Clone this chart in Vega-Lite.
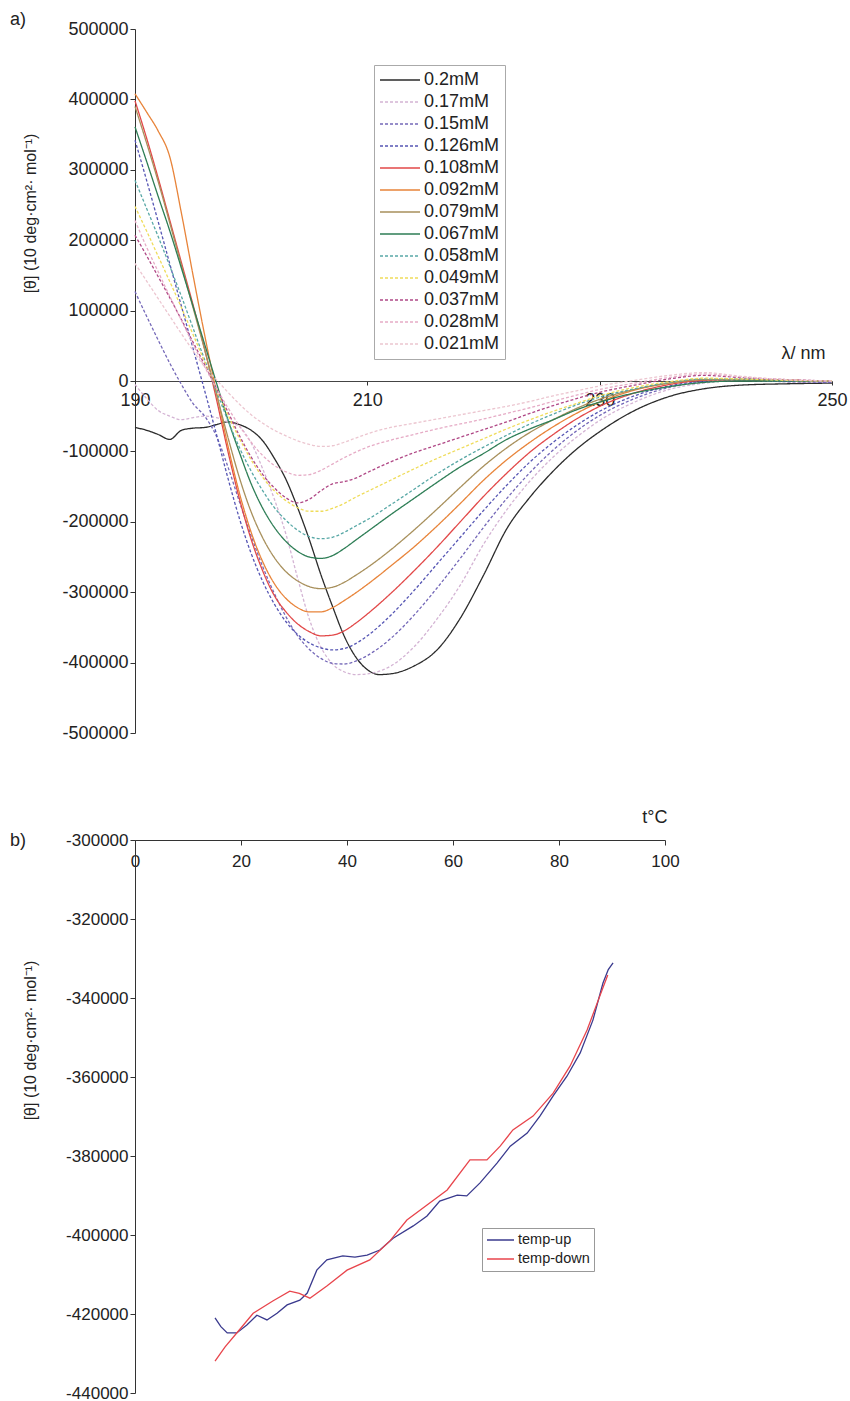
{
"$schema":"https://vega.github.io/schema/vega-lite/v6.json",
"padding":{"left":10,"top":11,"right":0,"bottom":0},
"bounds":"flush",
"spacing":107,
"config":{"font":"Liberation Sans","view":{"stroke":null},
"axis":{"labelFont":"Liberation Sans","labelFontSize":18,"labelColor":"#222","domainColor":"#333","tickColor":"#333","grid":false,"titleFont":"Liberation Sans","titleFontWeight":"normal","titleFontSize":16,"titleColor":"#222","tickSize":5,"labelExpr":"'' + datum.value"},
"title":{"font":"Liberation Sans","fontWeight":"normal","fontSize":18,"color":"#222"}},
"datasets":{
"a":[
{"c":"0.2mM","w":190,"v":-66000},{"c":"0.2mM","w":191,"v":-70000},{"c":"0.2mM","w":192,"v":-76000},{"c":"0.2mM","w":193,"v":-83000},{"c":"0.2mM","w":194,"v":-70000},{"c":"0.2mM","w":195,"v":-67000},{"c":"0.2mM","w":196,"v":-66000},{"c":"0.2mM","w":197,"v":-62000},{"c":"0.2mM","w":198,"v":-58000},{"c":"0.2mM","w":199,"v":-62000},{"c":"0.2mM","w":200,"v":-70000},{"c":"0.2mM","w":201,"v":-85000},{"c":"0.2mM","w":202,"v":-110000},{"c":"0.2mM","w":203,"v":-140000},{"c":"0.2mM","w":204,"v":-180000},{"c":"0.2mM","w":205,"v":-225000},{"c":"0.2mM","w":206,"v":-275000},{"c":"0.2mM","w":207,"v":-320000},{"c":"0.2mM","w":208,"v":-362000},{"c":"0.2mM","w":209,"v":-392000},{"c":"0.2mM","w":210,"v":-410000},{"c":"0.2mM","w":211,"v":-417000},{"c":"0.2mM","w":212,"v":-416000},{"c":"0.2mM","w":214,"v":-405000},{"c":"0.2mM","w":216,"v":-382000},{"c":"0.2mM","w":218,"v":-337000},{"c":"0.2mM","w":220,"v":-276000},{"c":"0.2mM","w":222,"v":-210000},{"c":"0.2mM","w":224,"v":-165000},{"c":"0.2mM","w":226,"v":-128000},{"c":"0.2mM","w":228,"v":-97000},{"c":"0.2mM","w":230,"v":-72000},{"c":"0.2mM","w":233,"v":-42000},{"c":"0.2mM","w":236,"v":-22000},{"c":"0.2mM","w":239,"v":-11000},{"c":"0.2mM","w":242,"v":-6000},{"c":"0.2mM","w":246,"v":-4000},{"c":"0.2mM","w":250,"v":-3000},
{"c":"0.17mM","w":190,"v":-5000},{"c":"0.17mM","w":191,"v":-25000},{"c":"0.17mM","w":192,"v":-42000},{"c":"0.17mM","w":193,"v":-50000},{"c":"0.17mM","w":194,"v":-55000},{"c":"0.17mM","w":195,"v":-52000},{"c":"0.17mM","w":196,"v":-50000},{"c":"0.17mM","w":197,"v":-52000},{"c":"0.17mM","w":198,"v":-58000},{"c":"0.17mM","w":199,"v":-65000},{"c":"0.17mM","w":200,"v":-88000},{"c":"0.17mM","w":201,"v":-125000},{"c":"0.17mM","w":202,"v":-168000},{"c":"0.17mM","w":203,"v":-218000},{"c":"0.17mM","w":204,"v":-280000},{"c":"0.17mM","w":205,"v":-338000},{"c":"0.17mM","w":206,"v":-378000},{"c":"0.17mM","w":207,"v":-402000},{"c":"0.17mM","w":208,"v":-413000},{"c":"0.17mM","w":209,"v":-417000},{"c":"0.17mM","w":210,"v":-416000},{"c":"0.17mM","w":212,"v":-405000},{"c":"0.17mM","w":214,"v":-378000},{"c":"0.17mM","w":216,"v":-338000},{"c":"0.17mM","w":218,"v":-290000},{"c":"0.17mM","w":220,"v":-232000},{"c":"0.17mM","w":222,"v":-183000},{"c":"0.17mM","w":224,"v":-142000},{"c":"0.17mM","w":226,"v":-108000},{"c":"0.17mM","w":228,"v":-80000},{"c":"0.17mM","w":230,"v":-56000},{"c":"0.17mM","w":233,"v":-30000},{"c":"0.17mM","w":236,"v":-12000},{"c":"0.17mM","w":239,"v":-3000},{"c":"0.17mM","w":242,"v":1000},{"c":"0.17mM","w":246,"v":-1000},{"c":"0.17mM","w":250,"v":-2000},
{"c":"0.15mM","w":190,"v":127000},{"c":"0.15mM","w":191,"v":92000},{"c":"0.15mM","w":192,"v":58000},{"c":"0.15mM","w":193,"v":25000},{"c":"0.15mM","w":194,"v":-5000},{"c":"0.15mM","w":195,"v":-32000},{"c":"0.15mM","w":196,"v":-50000},{"c":"0.15mM","w":197,"v":-78000},{"c":"0.15mM","w":198,"v":-122000},{"c":"0.15mM","w":199,"v":-172000},{"c":"0.15mM","w":200,"v":-220000},{"c":"0.15mM","w":201,"v":-264000},{"c":"0.15mM","w":202,"v":-302000},{"c":"0.15mM","w":203,"v":-335000},{"c":"0.15mM","w":204,"v":-362000},{"c":"0.15mM","w":205,"v":-381000},{"c":"0.15mM","w":206,"v":-394000},{"c":"0.15mM","w":207,"v":-401000},{"c":"0.15mM","w":208,"v":-402000},{"c":"0.15mM","w":209,"v":-398000},{"c":"0.15mM","w":210,"v":-390000},{"c":"0.15mM","w":212,"v":-366000},{"c":"0.15mM","w":214,"v":-333000},{"c":"0.15mM","w":216,"v":-294000},{"c":"0.15mM","w":218,"v":-252000},{"c":"0.15mM","w":220,"v":-208000},{"c":"0.15mM","w":222,"v":-167000},{"c":"0.15mM","w":224,"v":-130000},{"c":"0.15mM","w":226,"v":-98000},{"c":"0.15mM","w":228,"v":-71000},{"c":"0.15mM","w":230,"v":-49000},{"c":"0.15mM","w":233,"v":-25000},{"c":"0.15mM","w":236,"v":-9000},{"c":"0.15mM","w":239,"v":-1000},{"c":"0.15mM","w":242,"v":1000},{"c":"0.15mM","w":246,"v":-1000},{"c":"0.15mM","w":250,"v":-2000},
{"c":"0.126mM","w":190,"v":342000},{"c":"0.126mM","w":191,"v":285000},{"c":"0.126mM","w":192,"v":226000},{"c":"0.126mM","w":193,"v":166000},{"c":"0.126mM","w":194,"v":106000},{"c":"0.126mM","w":195,"v":46000},{"c":"0.126mM","w":196,"v":-14000},{"c":"0.126mM","w":197,"v":-75000},{"c":"0.126mM","w":198,"v":-138000},{"c":"0.126mM","w":199,"v":-196000},{"c":"0.126mM","w":200,"v":-245000},{"c":"0.126mM","w":201,"v":-285000},{"c":"0.126mM","w":202,"v":-317000},{"c":"0.126mM","w":203,"v":-342000},{"c":"0.126mM","w":204,"v":-360000},{"c":"0.126mM","w":205,"v":-372000},{"c":"0.126mM","w":206,"v":-379000},{"c":"0.126mM","w":207,"v":-382000},{"c":"0.126mM","w":208,"v":-380000},{"c":"0.126mM","w":209,"v":-373000},{"c":"0.126mM","w":210,"v":-362000},{"c":"0.126mM","w":212,"v":-333000},{"c":"0.126mM","w":214,"v":-298000},{"c":"0.126mM","w":216,"v":-260000},{"c":"0.126mM","w":218,"v":-222000},{"c":"0.126mM","w":220,"v":-184000},{"c":"0.126mM","w":222,"v":-148000},{"c":"0.126mM","w":224,"v":-115000},{"c":"0.126mM","w":226,"v":-87000},{"c":"0.126mM","w":228,"v":-63000},{"c":"0.126mM","w":230,"v":-43000},{"c":"0.126mM","w":233,"v":-21000},{"c":"0.126mM","w":236,"v":-7000},{"c":"0.126mM","w":239,"v":0},{"c":"0.126mM","w":242,"v":2000},{"c":"0.126mM","w":246,"v":0},{"c":"0.126mM","w":250,"v":-1000},
{"c":"0.108mM","w":190,"v":398000},{"c":"0.108mM","w":191,"v":345000},{"c":"0.108mM","w":192,"v":288000},{"c":"0.108mM","w":193,"v":228000},{"c":"0.108mM","w":194,"v":168000},{"c":"0.108mM","w":195,"v":108000},{"c":"0.108mM","w":196,"v":45000},{"c":"0.108mM","w":197,"v":-25000},{"c":"0.108mM","w":198,"v":-100000},{"c":"0.108mM","w":199,"v":-168000},{"c":"0.108mM","w":200,"v":-225000},{"c":"0.108mM","w":201,"v":-270000},{"c":"0.108mM","w":202,"v":-305000},{"c":"0.108mM","w":203,"v":-328000},{"c":"0.108mM","w":204,"v":-345000},{"c":"0.108mM","w":205,"v":-356000},{"c":"0.108mM","w":206,"v":-362000},{"c":"0.108mM","w":207,"v":-361000},{"c":"0.108mM","w":208,"v":-355000},{"c":"0.108mM","w":209,"v":-344000},{"c":"0.108mM","w":210,"v":-331000},{"c":"0.108mM","w":212,"v":-302000},{"c":"0.108mM","w":214,"v":-270000},{"c":"0.108mM","w":216,"v":-236000},{"c":"0.108mM","w":218,"v":-200000},{"c":"0.108mM","w":220,"v":-164000},{"c":"0.108mM","w":222,"v":-131000},{"c":"0.108mM","w":224,"v":-101000},{"c":"0.108mM","w":226,"v":-76000},{"c":"0.108mM","w":228,"v":-54000},{"c":"0.108mM","w":230,"v":-36000},{"c":"0.108mM","w":233,"v":-17000},{"c":"0.108mM","w":236,"v":-5000},{"c":"0.108mM","w":239,"v":1000},{"c":"0.108mM","w":242,"v":2000},{"c":"0.108mM","w":246,"v":1000},{"c":"0.108mM","w":250,"v":0},
{"c":"0.092mM","w":190,"v":408000},{"c":"0.092mM","w":191,"v":382000},{"c":"0.092mM","w":192,"v":355000},{"c":"0.092mM","w":193,"v":318000},{"c":"0.092mM","w":194,"v":238000},{"c":"0.092mM","w":195,"v":150000},{"c":"0.092mM","w":196,"v":65000},{"c":"0.092mM","w":197,"v":-15000},{"c":"0.092mM","w":198,"v":-92000},{"c":"0.092mM","w":199,"v":-160000},{"c":"0.092mM","w":200,"v":-215000},{"c":"0.092mM","w":201,"v":-257000},{"c":"0.092mM","w":202,"v":-288000},{"c":"0.092mM","w":203,"v":-309000},{"c":"0.092mM","w":204,"v":-322000},{"c":"0.092mM","w":205,"v":-328000},{"c":"0.092mM","w":206,"v":-328000},{"c":"0.092mM","w":207,"v":-322000},{"c":"0.092mM","w":208,"v":-312000},{"c":"0.092mM","w":209,"v":-301000},{"c":"0.092mM","w":210,"v":-289000},{"c":"0.092mM","w":212,"v":-263000},{"c":"0.092mM","w":214,"v":-236000},{"c":"0.092mM","w":216,"v":-206000},{"c":"0.092mM","w":218,"v":-174000},{"c":"0.092mM","w":220,"v":-141000},{"c":"0.092mM","w":222,"v":-112000},{"c":"0.092mM","w":224,"v":-87000},{"c":"0.092mM","w":226,"v":-65000},{"c":"0.092mM","w":228,"v":-46000},{"c":"0.092mM","w":230,"v":-30000},{"c":"0.092mM","w":233,"v":-13000},{"c":"0.092mM","w":236,"v":-3000},{"c":"0.092mM","w":239,"v":2000},{"c":"0.092mM","w":242,"v":2000},{"c":"0.092mM","w":246,"v":1000},{"c":"0.092mM","w":250,"v":0},
{"c":"0.079mM","w":190,"v":390000},{"c":"0.079mM","w":191,"v":338000},{"c":"0.079mM","w":192,"v":283000},{"c":"0.079mM","w":193,"v":224000},{"c":"0.079mM","w":194,"v":164000},{"c":"0.079mM","w":195,"v":104000},{"c":"0.079mM","w":196,"v":44000},{"c":"0.079mM","w":197,"v":-18000},{"c":"0.079mM","w":198,"v":-80000},{"c":"0.079mM","w":199,"v":-138000},{"c":"0.079mM","w":200,"v":-186000},{"c":"0.079mM","w":201,"v":-223000},{"c":"0.079mM","w":202,"v":-251000},{"c":"0.079mM","w":203,"v":-271000},{"c":"0.079mM","w":204,"v":-284000},{"c":"0.079mM","w":205,"v":-292000},{"c":"0.079mM","w":206,"v":-295000},{"c":"0.079mM","w":207,"v":-293000},{"c":"0.079mM","w":208,"v":-286000},{"c":"0.079mM","w":209,"v":-276000},{"c":"0.079mM","w":210,"v":-265000},{"c":"0.079mM","w":212,"v":-240000},{"c":"0.079mM","w":214,"v":-212000},{"c":"0.079mM","w":216,"v":-182000},{"c":"0.079mM","w":218,"v":-151000},{"c":"0.079mM","w":220,"v":-121000},{"c":"0.079mM","w":222,"v":-95000},{"c":"0.079mM","w":224,"v":-73000},{"c":"0.079mM","w":226,"v":-55000},{"c":"0.079mM","w":228,"v":-39000},{"c":"0.079mM","w":230,"v":-26000},{"c":"0.079mM","w":233,"v":-12000},{"c":"0.079mM","w":236,"v":-3000},{"c":"0.079mM","w":239,"v":2000},{"c":"0.079mM","w":242,"v":2000},{"c":"0.079mM","w":246,"v":1000},{"c":"0.079mM","w":250,"v":0},
{"c":"0.067mM","w":190,"v":361000},{"c":"0.067mM","w":191,"v":312000},{"c":"0.067mM","w":192,"v":262000},{"c":"0.067mM","w":193,"v":213000},{"c":"0.067mM","w":194,"v":160000},{"c":"0.067mM","w":195,"v":106000},{"c":"0.067mM","w":196,"v":52000},{"c":"0.067mM","w":197,"v":-2000},{"c":"0.067mM","w":198,"v":-55000},{"c":"0.067mM","w":199,"v":-102000},{"c":"0.067mM","w":200,"v":-146000},{"c":"0.067mM","w":201,"v":-181000},{"c":"0.067mM","w":202,"v":-208000},{"c":"0.067mM","w":203,"v":-228000},{"c":"0.067mM","w":204,"v":-242000},{"c":"0.067mM","w":205,"v":-250000},{"c":"0.067mM","w":206,"v":-252000},{"c":"0.067mM","w":207,"v":-248000},{"c":"0.067mM","w":208,"v":-238000},{"c":"0.067mM","w":209,"v":-226000},{"c":"0.067mM","w":210,"v":-214000},{"c":"0.067mM","w":212,"v":-190000},{"c":"0.067mM","w":214,"v":-167000},{"c":"0.067mM","w":216,"v":-144000},{"c":"0.067mM","w":218,"v":-122000},{"c":"0.067mM","w":220,"v":-103000},{"c":"0.067mM","w":222,"v":-83000},{"c":"0.067mM","w":224,"v":-68000},{"c":"0.067mM","w":226,"v":-55000},{"c":"0.067mM","w":228,"v":-41000},{"c":"0.067mM","w":230,"v":-30000},{"c":"0.067mM","w":233,"v":-17000},{"c":"0.067mM","w":236,"v":-8000},{"c":"0.067mM","w":239,"v":-2000},{"c":"0.067mM","w":242,"v":0},{"c":"0.067mM","w":246,"v":0},{"c":"0.067mM","w":250,"v":0},
{"c":"0.058mM","w":190,"v":285000},{"c":"0.058mM","w":191,"v":245000},{"c":"0.058mM","w":192,"v":205000},{"c":"0.058mM","w":193,"v":163000},{"c":"0.058mM","w":194,"v":120000},{"c":"0.058mM","w":195,"v":75000},{"c":"0.058mM","w":196,"v":30000},{"c":"0.058mM","w":197,"v":-14000},{"c":"0.058mM","w":198,"v":-56000},{"c":"0.058mM","w":199,"v":-95000},{"c":"0.058mM","w":200,"v":-128000},{"c":"0.058mM","w":201,"v":-156000},{"c":"0.058mM","w":202,"v":-180000},{"c":"0.058mM","w":203,"v":-198000},{"c":"0.058mM","w":204,"v":-212000},{"c":"0.058mM","w":205,"v":-221000},{"c":"0.058mM","w":206,"v":-224000},{"c":"0.058mM","w":207,"v":-222000},{"c":"0.058mM","w":208,"v":-215000},{"c":"0.058mM","w":209,"v":-206000},{"c":"0.058mM","w":210,"v":-197000},{"c":"0.058mM","w":212,"v":-176000},{"c":"0.058mM","w":214,"v":-154000},{"c":"0.058mM","w":216,"v":-132000},{"c":"0.058mM","w":218,"v":-112000},{"c":"0.058mM","w":220,"v":-94000},{"c":"0.058mM","w":222,"v":-77000},{"c":"0.058mM","w":224,"v":-61000},{"c":"0.058mM","w":226,"v":-47000},{"c":"0.058mM","w":228,"v":-34000},{"c":"0.058mM","w":230,"v":-23000},{"c":"0.058mM","w":233,"v":-11000},{"c":"0.058mM","w":236,"v":-2000},{"c":"0.058mM","w":239,"v":3000},{"c":"0.058mM","w":242,"v":3000},{"c":"0.058mM","w":246,"v":1000},{"c":"0.058mM","w":250,"v":0},
{"c":"0.049mM","w":190,"v":248000},{"c":"0.049mM","w":191,"v":213000},{"c":"0.049mM","w":192,"v":177000},{"c":"0.049mM","w":193,"v":141000},{"c":"0.049mM","w":194,"v":104000},{"c":"0.049mM","w":195,"v":66000},{"c":"0.049mM","w":196,"v":27000},{"c":"0.049mM","w":197,"v":-11000},{"c":"0.049mM","w":198,"v":-48000},{"c":"0.049mM","w":199,"v":-82000},{"c":"0.049mM","w":200,"v":-112000},{"c":"0.049mM","w":201,"v":-137000},{"c":"0.049mM","w":202,"v":-156000},{"c":"0.049mM","w":203,"v":-170000},{"c":"0.049mM","w":204,"v":-180000},{"c":"0.049mM","w":205,"v":-185000},{"c":"0.049mM","w":206,"v":-185000},{"c":"0.049mM","w":207,"v":-181000},{"c":"0.049mM","w":208,"v":-174000},{"c":"0.049mM","w":209,"v":-165000},{"c":"0.049mM","w":210,"v":-157000},{"c":"0.049mM","w":212,"v":-141000},{"c":"0.049mM","w":214,"v":-125000},{"c":"0.049mM","w":216,"v":-110000},{"c":"0.049mM","w":218,"v":-96000},{"c":"0.049mM","w":220,"v":-82000},{"c":"0.049mM","w":222,"v":-68000},{"c":"0.049mM","w":224,"v":-55000},{"c":"0.049mM","w":226,"v":-43000},{"c":"0.049mM","w":228,"v":-32000},{"c":"0.049mM","w":230,"v":-21000},{"c":"0.049mM","w":233,"v":-9000},{"c":"0.049mM","w":236,"v":-1000},{"c":"0.049mM","w":239,"v":4000},{"c":"0.049mM","w":242,"v":3000},{"c":"0.049mM","w":246,"v":1000},{"c":"0.049mM","w":250,"v":0},
{"c":"0.037mM","w":190,"v":207000},{"c":"0.037mM","w":191,"v":178000},{"c":"0.037mM","w":192,"v":148000},{"c":"0.037mM","w":193,"v":118000},{"c":"0.037mM","w":194,"v":87000},{"c":"0.037mM","w":195,"v":55000},{"c":"0.037mM","w":196,"v":23000},{"c":"0.037mM","w":197,"v":-10000},{"c":"0.037mM","w":198,"v":-44000},{"c":"0.037mM","w":199,"v":-78000},{"c":"0.037mM","w":200,"v":-108000},{"c":"0.037mM","w":201,"v":-133000},{"c":"0.037mM","w":202,"v":-152000},{"c":"0.037mM","w":203,"v":-166000},{"c":"0.037mM","w":204,"v":-173000},{"c":"0.037mM","w":205,"v":-168000},{"c":"0.037mM","w":206,"v":-156000},{"c":"0.037mM","w":207,"v":-146000},{"c":"0.037mM","w":208,"v":-143000},{"c":"0.037mM","w":209,"v":-138000},{"c":"0.037mM","w":210,"v":-130000},{"c":"0.037mM","w":212,"v":-115000},{"c":"0.037mM","w":214,"v":-102000},{"c":"0.037mM","w":216,"v":-91000},{"c":"0.037mM","w":218,"v":-80000},{"c":"0.037mM","w":220,"v":-69000},{"c":"0.037mM","w":222,"v":-58000},{"c":"0.037mM","w":224,"v":-46000},{"c":"0.037mM","w":226,"v":-35000},{"c":"0.037mM","w":228,"v":-25000},{"c":"0.037mM","w":230,"v":-16000},{"c":"0.037mM","w":233,"v":-6000},{"c":"0.037mM","w":236,"v":3000},{"c":"0.037mM","w":239,"v":8000},{"c":"0.037mM","w":242,"v":5000},{"c":"0.037mM","w":246,"v":2000},{"c":"0.037mM","w":250,"v":0},
{"c":"0.028mM","w":190,"v":228000},{"c":"0.028mM","w":191,"v":190000},{"c":"0.028mM","w":192,"v":155000},{"c":"0.028mM","w":193,"v":120000},{"c":"0.028mM","w":194,"v":86000},{"c":"0.028mM","w":195,"v":52000},{"c":"0.028mM","w":196,"v":20000},{"c":"0.028mM","w":197,"v":-10000},{"c":"0.028mM","w":198,"v":-38000},{"c":"0.028mM","w":199,"v":-64000},{"c":"0.028mM","w":200,"v":-87000},{"c":"0.028mM","w":201,"v":-106000},{"c":"0.028mM","w":202,"v":-120000},{"c":"0.028mM","w":203,"v":-129000},{"c":"0.028mM","w":204,"v":-134000},{"c":"0.028mM","w":205,"v":-133000},{"c":"0.028mM","w":206,"v":-127000},{"c":"0.028mM","w":207,"v":-118000},{"c":"0.028mM","w":208,"v":-109000},{"c":"0.028mM","w":209,"v":-101000},{"c":"0.028mM","w":210,"v":-94000},{"c":"0.028mM","w":212,"v":-84000},{"c":"0.028mM","w":214,"v":-76000},{"c":"0.028mM","w":216,"v":-68000},{"c":"0.028mM","w":218,"v":-61000},{"c":"0.028mM","w":220,"v":-54000},{"c":"0.028mM","w":222,"v":-46000},{"c":"0.028mM","w":224,"v":-38000},{"c":"0.028mM","w":226,"v":-29000},{"c":"0.028mM","w":228,"v":-20000},{"c":"0.028mM","w":230,"v":-12000},{"c":"0.028mM","w":233,"v":-3000},{"c":"0.028mM","w":236,"v":5000},{"c":"0.028mM","w":239,"v":10000},{"c":"0.028mM","w":242,"v":6000},{"c":"0.028mM","w":246,"v":2000},{"c":"0.028mM","w":250,"v":0},
{"c":"0.021mM","w":190,"v":167000},{"c":"0.021mM","w":191,"v":142000},{"c":"0.021mM","w":192,"v":117000},{"c":"0.021mM","w":193,"v":92000},{"c":"0.021mM","w":194,"v":67000},{"c":"0.021mM","w":195,"v":43000},{"c":"0.021mM","w":196,"v":20000},{"c":"0.021mM","w":197,"v":2000},{"c":"0.021mM","w":198,"v":-16000},{"c":"0.021mM","w":199,"v":-33000},{"c":"0.021mM","w":200,"v":-48000},{"c":"0.021mM","w":201,"v":-60000},{"c":"0.021mM","w":202,"v":-70000},{"c":"0.021mM","w":203,"v":-78000},{"c":"0.021mM","w":204,"v":-85000},{"c":"0.021mM","w":205,"v":-90000},{"c":"0.021mM","w":206,"v":-93000},{"c":"0.021mM","w":207,"v":-92000},{"c":"0.021mM","w":208,"v":-87000},{"c":"0.021mM","w":209,"v":-81000},{"c":"0.021mM","w":210,"v":-75000},{"c":"0.021mM","w":212,"v":-66000},{"c":"0.021mM","w":214,"v":-60000},{"c":"0.021mM","w":216,"v":-54000},{"c":"0.021mM","w":218,"v":-48000},{"c":"0.021mM","w":220,"v":-42000},{"c":"0.021mM","w":222,"v":-36000},{"c":"0.021mM","w":224,"v":-29000},{"c":"0.021mM","w":226,"v":-21000},{"c":"0.021mM","w":228,"v":-14000},{"c":"0.021mM","w":230,"v":-7000},{"c":"0.021mM","w":233,"v":1000},{"c":"0.021mM","w":236,"v":8000},{"c":"0.021mM","w":239,"v":12000},{"c":"0.021mM","w":242,"v":7000},{"c":"0.021mM","w":246,"v":2000},{"c":"0.021mM","w":250,"v":0}
],
"b":[
{"r":"temp-up","t":15.1,"v":-421000},{"r":"temp-up","t":16.2,"v":-423200},{"r":"temp-up","t":17.4,"v":-424800},{"r":"temp-up","t":19.2,"v":-424800},{"r":"temp-up","t":21.1,"v":-422800},{"r":"temp-up","t":23.0,"v":-420300},{"r":"temp-up","t":24.9,"v":-421500},{"r":"temp-up","t":26.8,"v":-419800},{"r":"temp-up","t":28.7,"v":-417700},{"r":"temp-up","t":31.1,"v":-416500},{"r":"temp-up","t":32.5,"v":-414700},{"r":"temp-up","t":34.3,"v":-408900},{"r":"temp-up","t":36.2,"v":-406300},{"r":"temp-up","t":39.2,"v":-405300},{"r":"temp-up","t":41.5,"v":-405600},{"r":"temp-up","t":43.8,"v":-405100},{"r":"temp-up","t":46.2,"v":-403800},{"r":"temp-up","t":48.7,"v":-400800},{"r":"temp-up","t":52.5,"v":-397700},{"r":"temp-up","t":55.1,"v":-395200},{"r":"temp-up","t":57.5,"v":-391400},{"r":"temp-up","t":60.8,"v":-389900},{"r":"temp-up","t":62.6,"v":-390100},{"r":"temp-up","t":65.1,"v":-386800},{"r":"temp-up","t":68.3,"v":-381800},{"r":"temp-up","t":70.8,"v":-377500},{"r":"temp-up","t":74.0,"v":-374200},{"r":"temp-up","t":76.4,"v":-369900},{"r":"temp-up","t":78.9,"v":-364800},{"r":"temp-up","t":81.5,"v":-359800},{"r":"temp-up","t":84.0,"v":-353900},{"r":"temp-up","t":86.4,"v":-345600},{"r":"temp-up","t":88.3,"v":-336200},{"r":"temp-up","t":89.3,"v":-332800},{"r":"temp-up","t":90.2,"v":-331100},
{"r":"temp-down","t":15.1,"v":-431900},{"r":"temp-down","t":17.0,"v":-428300},{"r":"temp-down","t":19.2,"v":-424800},{"r":"temp-down","t":22.3,"v":-419800},{"r":"temp-down","t":26.0,"v":-416700},{"r":"temp-down","t":29.2,"v":-414200},{"r":"temp-down","t":31.0,"v":-414800},{"r":"temp-down","t":33.0,"v":-416000},{"r":"temp-down","t":36.2,"v":-412900},{"r":"temp-down","t":40.0,"v":-408900},{"r":"temp-down","t":44.3,"v":-406300},{"r":"temp-down","t":48.1,"v":-401500},{"r":"temp-down","t":51.3,"v":-396200},{"r":"temp-down","t":55.1,"v":-392400},{"r":"temp-down","t":58.9,"v":-388600},{"r":"temp-down","t":63.2,"v":-381000},{"r":"temp-down","t":66.4,"v":-381000},{"r":"temp-down","t":68.9,"v":-377500},{"r":"temp-down","t":71.3,"v":-373400},{"r":"temp-down","t":75.1,"v":-369900},{"r":"temp-down","t":78.9,"v":-364100},{"r":"temp-down","t":82.1,"v":-357200},{"r":"temp-down","t":85.3,"v":-348100},{"r":"temp-down","t":87.2,"v":-341300},{"r":"temp-down","t":89.2,"v":-334200}
]},
"vconcat":[
{"width":697,"height":704,
"title":{"text":"a)","anchor":"start","frame":"group","dx":-125,"offset":-18,"baseline":"middle"},
"data":{"name":"a"},
"mark":{"type":"line","strokeWidth":1.3,"interpolate":"monotone"},
"encoding":{
"x":{"field":"w","type":"quantitative","scale":{"domain":[190,250],"nice":false,"zero":false},
"axis":{"values":[190,210,230,250],"orient":"bottom","offset":-352,"title":"λ/ nm","titleX":690,"titleY":-28,"titleAlign":"right","titleBaseline":"middle","titleFontSize":18,"labelPadding":6,"tickSize":4,"labelFlush":false,"domainColor":"#444"}},
"y":{"field":"v","type":"quantitative","scale":{"domain":[-500000,500000],"nice":false,"zero":false},
"axis":{"values":[-500000,-400000,-300000,-200000,-100000,0,100000,200000,300000,400000,500000],"title":"[θ] (10 deg·cm²· mol⁻¹)","titleX":-105,"titleY":184,"titleAngle":-90,"titleAlign":"center","titleBaseline":"middle"}},
"color":{"field":"c","type":"nominal","scale":{"domain":["0.2mM","0.17mM","0.15mM","0.126mM","0.108mM","0.092mM","0.079mM","0.067mM","0.058mM","0.049mM","0.037mM","0.028mM","0.021mM"],"range":["#2b2b2b","#d4b4d4","#7468b8","#5656b4","#e24848","#e8843a","#a8905c","#2e7e56","#58a8a6","#efdc5a","#b04886","#e6acc6","#ecc6d0"]},
"legend":{"title":null,"orient":"none","legendX":239,"legendY":36,"padding":5,"strokeColor":"#aaa","fillColor":"white","symbolType":"stroke","symbolSize":1600,"symbolStrokeWidth":1.6,"labelFontSize":18,"labelColor":"#222","clipHeight":20,"rowPadding":2,"labelOffset":3}},
"strokeDash":{"field":"c","type":"nominal","scale":{"domain":["0.2mM","0.17mM","0.15mM","0.126mM","0.108mM","0.092mM","0.079mM","0.067mM","0.058mM","0.049mM","0.037mM","0.028mM","0.021mM"],"range":[[1,0],[3,2],[3,2],[3,2],[1,0],[1,0],[1,0],[1,0],[3,2],[3,2],[3,2],[3,2],[3,2]]},
"legend":{"title":null,"orient":"none","legendX":239,"legendY":36,"padding":5,"strokeColor":"#aaa","fillColor":"white","symbolType":"stroke","symbolSize":1600,"symbolStrokeWidth":1.6,"labelFontSize":18,"labelColor":"#222","clipHeight":20,"rowPadding":2,"labelOffset":3}}
}},
{"width":530,"height":553,
"title":{"text":"b)","anchor":"start","frame":"group","dx":-125,"offset":-51,"baseline":"middle"},
"data":{"name":"b"},
"mark":{"type":"line","strokeWidth":1.3},
"encoding":{
"x":{"field":"t","type":"quantitative","scale":{"domain":[0,100],"nice":false,"zero":false},
"axis":{"values":[0,20,40,60,80,100],"orient":"bottom","offset":-553,"title":"t°C","titleX":532,"titleY":-23,"titleAlign":"right","titleBaseline":"middle","titleFontSize":18,"labelFontSize":17,"labelPadding":8,"labelFlush":false}},
"y":{"field":"v","type":"quantitative","scale":{"domain":[-440000,-300000],"nice":false,"zero":false},
"axis":{"values":[-440000,-420000,-400000,-380000,-360000,-340000,-320000,-300000],"labelFontSize":17,"title":"[θ] (10 deg·cm²· mol⁻¹)","titleX":-105,"titleY":200,"titleAngle":-90,"titleAlign":"center","titleBaseline":"middle"}},
"color":{"field":"r","type":"nominal","scale":{"domain":["temp-up","temp-down"],"range":["#3a3a8e","#e8454c"]},
"legend":{"title":null,"orient":"none","legendX":347,"legendY":388,"padding":4,"strokeColor":"#999","fillColor":"white","symbolType":"stroke","symbolSize":729,"symbolStrokeWidth":1.3,"labelFontSize":14.5,"labelColor":"#222","clipHeight":16,"rowPadding":3,"labelOffset":3}}
}}
],
"resolve":{"scale":{"color":"independent","strokeDash":"independent"},"legend":{"color":"independent","strokeDash":"independent"}}
}
